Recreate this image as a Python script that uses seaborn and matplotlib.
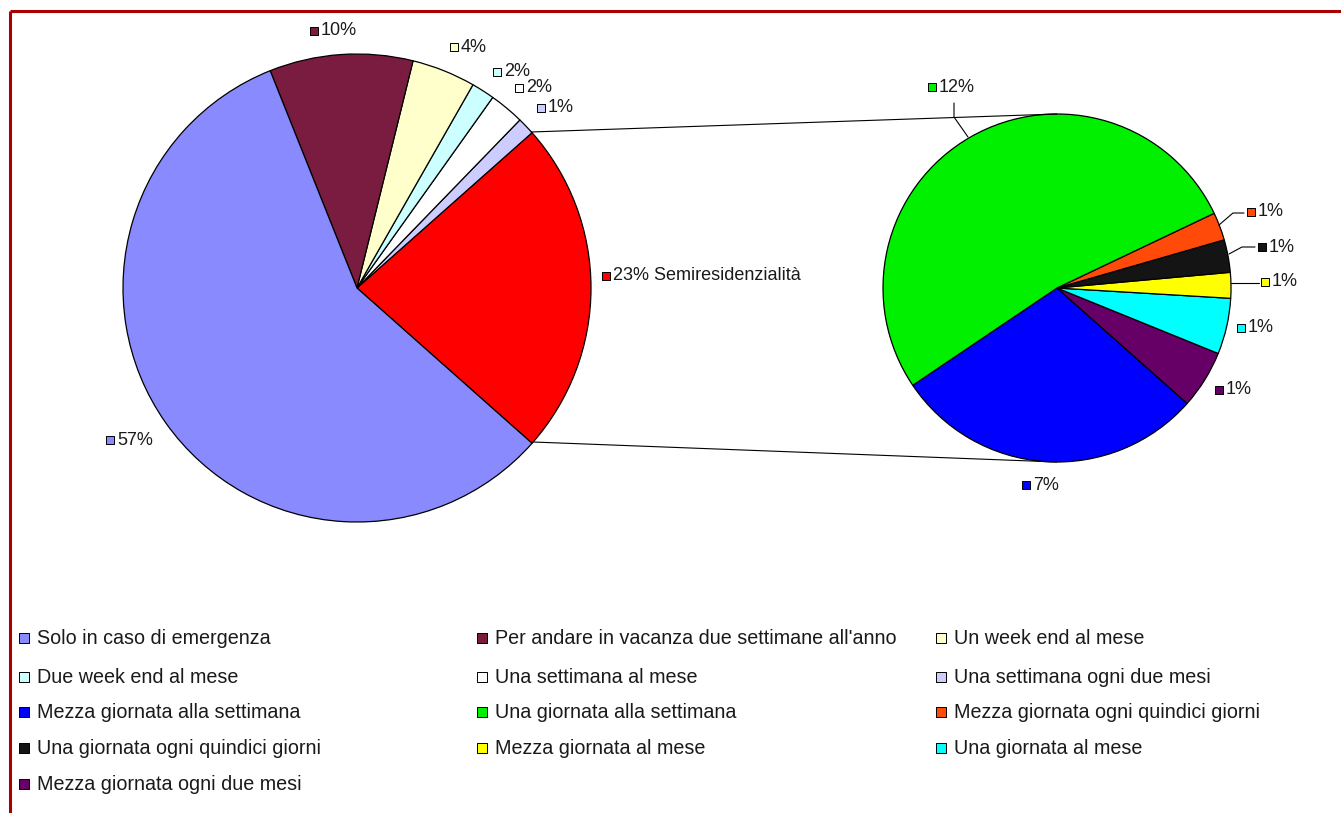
import matplotlib
matplotlib.use("Agg")
import matplotlib.pyplot as plt
import seaborn as sns

sns.set_style("white")
plt.rcParams['font.family'] = ['Liberation Sans', 'DejaVu Sans']

# ---------------- data ----------------
# main pie, counter-clockwise order starting with the "other" slice
main_categories = ["Semiresidenzialità", "Una settimana ogni due mesi", "Una settimana al mese",
                   "Due week end al mese", "Un week end al mese",
                   "Per andare in vacanza due settimane all'anno", "Solo in caso di emergenza"]
main_values = [23.1, 1.2, 2.4, 1.6, 4.4, 9.9, 57.4]

# secondary pie (breakdown of Semiresidenzialità), counter-clockwise order
sub_categories = ["Mezza giornata alla settimana", "Mezza giornata ogni due mesi", "Una giornata al mese",
                  "Mezza giornata al mese", "Una giornata ogni quindici giorni",
                  "Mezza giornata ogni quindici giorni", "Una giornata alla settimana"]
sub_values = [6.7, 1.25, 1.2, 0.55, 0.7, 0.6, 12.1]

legend_categories = ["Solo in caso di emergenza", "Per andare in vacanza due settimane all'anno",
                     "Un week end al mese", "Due week end al mese", "Una settimana al mese",
                     "Una settimana ogni due mesi", "Mezza giornata alla settimana",
                     "Una giornata alla settimana", "Mezza giornata ogni quindici giorni",
                     "Una giornata ogni quindici giorni", "Mezza giornata al mese",
                     "Una giornata al mese", "Mezza giornata ogni due mesi"]

colors = {
    "Solo in caso di emergenza": "#8A8AFF",
    "Per andare in vacanza due settimane all'anno": "#7A1C40",
    "Un week end al mese": "#FFFFCC",
    "Due week end al mese": "#CCFFFF",
    "Una settimana al mese": "#FFFFFF",
    "Una settimana ogni due mesi": "#CCCCFF",
    "Semiresidenzialità": "#FF0000",
    "Mezza giornata alla settimana": "#0000FF",
    "Una giornata alla settimana": "#00F000",
    "Mezza giornata ogni quindici giorni": "#FF4A0A",
    "Una giornata ogni quindici giorni": "#141414",
    "Mezza giornata al mese": "#FFFF00",
    "Una giornata al mese": "#00FFFF",
    "Mezza giornata ogni due mesi": "#660066",
}

# ---------------- layout (pixel coords, y downward) ----------------
W, H = 1341, 813
def Y(y):
    return H - y

main_c, main_r = (357, 288), 234
sub_c, sub_r = (1057, 288), 174

label_pos = {
    "Per andare in vacanza due settimane all'anno": (314, 31),
    "Un week end al mese": (454, 47),
    "Due week end al mese": (497, 72),
    "Una settimana al mese": (519, 88),
    "Una settimana ogni due mesi": (541, 108),
    "Semiresidenzialità": (606, 276),
    "Solo in caso di emergenza": (110, 440),
    "Una giornata alla settimana": (932, 87),
    "Mezza giornata ogni quindici giorni": (1251, 212),
    "Una giornata ogni quindici giorni": (1262, 247),
    "Mezza giornata al mese": (1265, 282),
    "Una giornata al mese": (1241, 328),
    "Mezza giornata ogni due mesi": (1219, 390),
    "Mezza giornata alla settimana": (1026, 485),
}

fig = plt.figure(figsize=(13.41, 8.13), dpi=100)
ax = fig.add_axes([0, 0, 1, 1])

wp = dict(edgecolor="black", linewidth=0.9)
ax.pie(main_values, colors=[colors[c] for c in main_categories],
       startangle=-main_values[0] * 1.8, counterclock=True,
       center=(main_c[0], Y(main_c[1])), radius=main_r, wedgeprops=wp)
ax.pie(sub_values, colors=[colors[c] for c in sub_categories],
       startangle=-146, counterclock=True,
       center=(sub_c[0], Y(sub_c[1])), radius=sub_r, wedgeprops=wp)

ax.set_xlim(0, W)
ax.set_ylim(0, H)
ax.set_aspect("equal")
ax.axis("off")

# connector lines (pie-of-pie)
ax.plot([531, sub_c[0]], [Y(132), Y(sub_c[1] - sub_r)], color="black", lw=0.8)
ax.plot([533, sub_c[0]], [Y(442), Y(sub_c[1] + sub_r)], color="black", lw=0.8)

# leader lines
leaders = [
    [(954, 103), (954, 117), (968, 137)],
    [(1244, 213), (1233, 213), (1219, 225)],
    [(1255, 247), (1242, 247), (1229, 254)],
    [(1259, 283), (1231, 283)],
]
for pts in leaders:
    ax.plot([p[0] for p in pts], [Y(p[1]) for p in pts], color="black", lw=0.8)

# data labels
def add_label(cat, val, extra=""):
    sx, sy = label_pos[cat]
    ax.scatter([sx], [Y(sy)], marker="s", s=34, color=colors[cat], edgecolor="black",
               linewidth=0.7, zorder=5)
    ax.text(sx + 7, Y(sy), f"{val:.0f}%{extra}", va="center", ha="left",
            fontsize=13, color="#1a1a1a")

for cat, val in zip(main_categories, main_values):
    add_label(cat, val, " Semiresidenzialità" if cat == "Semiresidenzialità" else "")
for cat, val in zip(sub_categories, sub_values):
    add_label(cat, val)

# legend (3 columns)
col_x = [24, 482, 941]
row_y = [638, 677, 712, 748, 784]
for i, cat in enumerate(legend_categories):
    x = col_x[i % 3]
    y = row_y[i // 3]
    ax.scatter([x], [Y(y)], marker="s", s=62, color=colors[cat], edgecolor="black",
               linewidth=0.7, zorder=5)
    ax.text(x + 13, Y(y), cat, va="center", ha="left", fontsize=14.2, color="#1a1a1a")

# frame border
ax.plot([10, W], [Y(11), Y(11)], color="#A80000", lw=2.2, solid_capstyle="butt")
ax.plot([10, 10], [Y(11), 0], color="#A80000", lw=2.2, solid_capstyle="butt")

fig.savefig("out.png", dpi=100)
